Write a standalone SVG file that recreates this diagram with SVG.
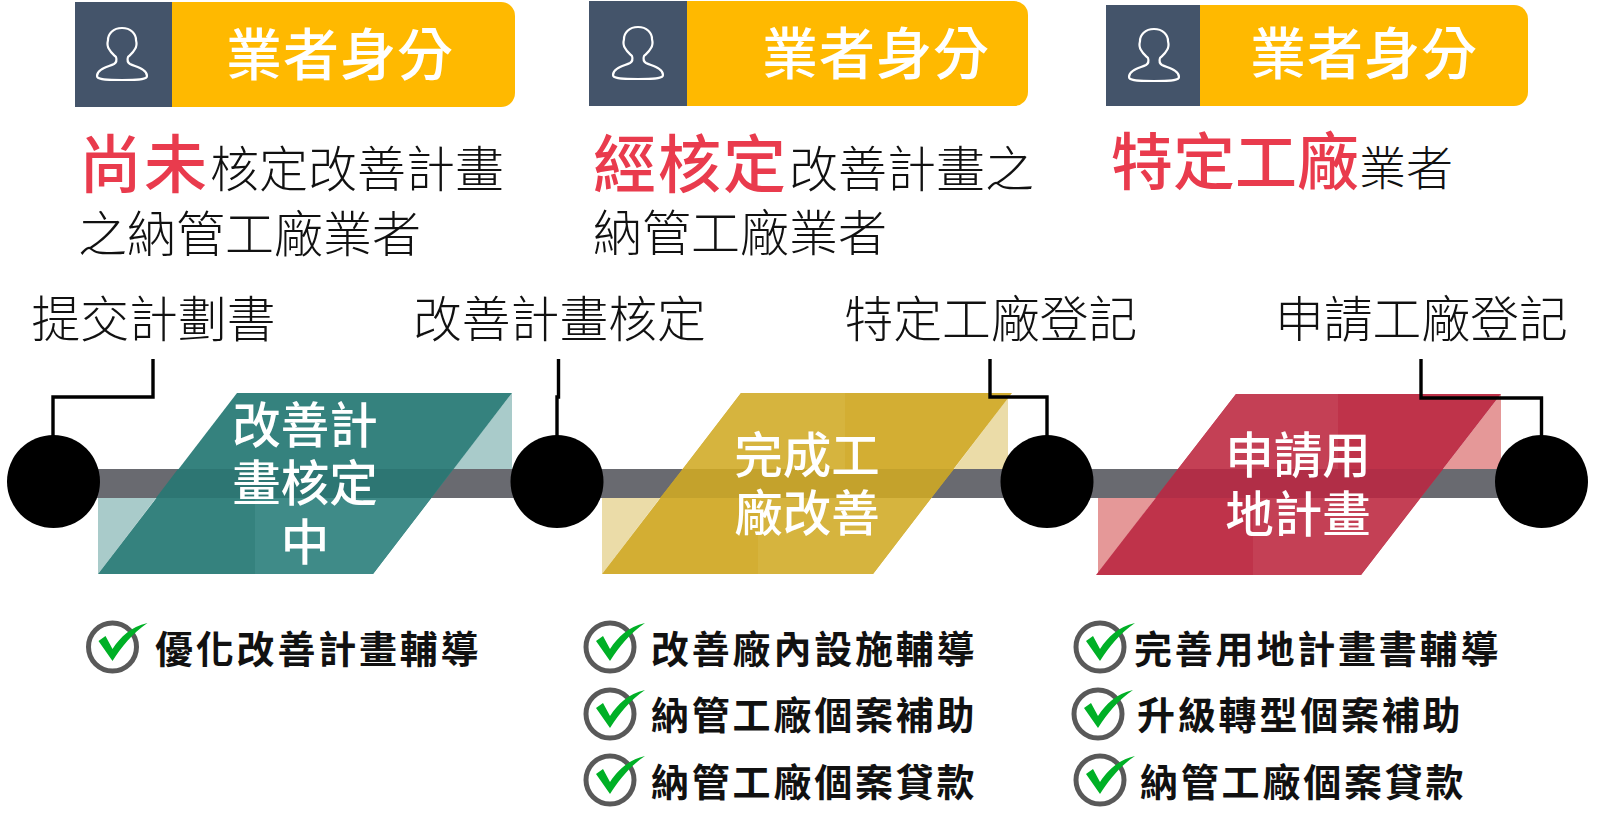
<svg xmlns="http://www.w3.org/2000/svg" xmlns:xlink="http://www.w3.org/1999/xlink" width="1600" height="834" viewBox="0 0 1600 834">
<style>
text{font-family:"Noto Sans CJK TC","Noto Sans CJK JP",sans-serif}
.hd{font-size:56px;font-weight:500;fill:#fff;letter-spacing:1px}
.hl{font-size:63px;font-weight:500;fill:#e93b4d;letter-spacing:2px}
.hl3{font-size:62px;font-weight:500;fill:#e93b4d}
.bd{font-size:49px;font-weight:300;fill:#111}
.bd3{font-size:47px;font-weight:300;fill:#111}
.lb{font-size:48.8px;font-weight:300;fill:#111}
.pn{font-size:48.5px;font-weight:500;fill:#fff;text-anchor:middle}
.it{font-size:38px;font-weight:700;fill:#111;letter-spacing:2.8px}
.slate{fill:#44546a}
.org{fill:#ffb900}
.dot{fill:#000}
.cn{fill:none;stroke:#000;stroke-width:3.4}
</style>
<defs>
<path id="user" d="M0-26C-9-26-14-20-14-14C-15-10-15-8-13-5C-11-1-8 1-6 3C-5 6-5 8-8 10C-14 13-25 15-25 22C-25 25-20 26 0 26C20 26 25 25 25 22C25 15 14 13 8 10C5 8 5 6 6 3C8 1 11-1 13-5C15-8 15-10 14-14C14-20 9-26 0-26Z" fill="none" stroke="#fff" stroke-width="2.2"/>
<g id="chk"><circle r="24" fill="#fff" stroke="#595959" stroke-width="5"/><path d="M-14-6L-7-11L0 2C8-10 18-20 35-24C20-14 9 0 0 14Z" fill="#00b026"/></g>
</defs>

<g id="header-1"><path class="org" d="M171 2H501a14 14 0 0 1 14 14V93a14 14 0 0 1-14 14H171Z"/><rect class="slate" x="75" y="2" width="97" height="105"/><use href="#user" xlink:href="#user" x="122" y="54"/><text class="hd" x="226" y="75">業者身分</text></g>
<g id="header-2"><path class="org" d="M686 1H1014a14 14 0 0 1 14 14V92a14 14 0 0 1-14 14H686Z"/><rect class="slate" x="589" y="1" width="98" height="105"/><use href="#user" xlink:href="#user" x="638" y="53"/><text class="hd" x="762" y="74">業者身分</text></g>
<g id="header-3"><path class="org" d="M1199 5H1514a14 14 0 0 1 14 14V92a14 14 0 0 1-14 14H1199Z"/><rect class="slate" x="1106" y="5" width="94" height="101"/><use href="#user" xlink:href="#user" x="1154" y="55"/><text class="hd" x="1250" y="74">業者身分</text></g>

<g id="desc-1"><text x="79" y="187"><tspan class="hl">尚未</tspan><tspan class="bd" dx="1">核定改善計畫</tspan></text><text class="bd" x="78" y="252">之納管工廠業者</text></g>
<g id="desc-2"><text x="593" y="187"><tspan class="hl">經核定</tspan><tspan class="bd" dx="1">改善計畫之</tspan></text><text class="bd" x="593" y="251">納管工廠業者</text></g>
<g id="desc-3"><text x="1111" y="185"><tspan class="hl3">特定工廠</tspan><tspan class="bd3">業者</tspan></text></g>

<g id="bands">
<polygon points="98,498 98,574 156,498" fill="#a9cbca"/><polygon points="512,393 512,469 453,469" fill="#a9cbca"/>
<polygon points="602,498 602,574 660,498" fill="#ebdca8"/><polygon points="1008,398 1008,469 954,469" fill="#ebdca8"/>
<polygon points="1098,498 1098,575 1155.5,498" fill="#e59898"/><polygon points="1501,394 1501,469 1443,469" fill="#e59898"/>
<rect x="53" y="469" width="1488" height="29" fill="#696a70"/>
</g>

<g id="step-1"><polygon points="98,574 237,393 512,393 373,574" fill="#35827e"/><polygon points="255,574 373,574 431,498 255,498" fill="#3f8b88"/><polygon points="178,469 453,469 431,498 156,498" fill="#2d7673"/><text class="pn" x="305" y="443">改善計</text><text class="pn" x="305" y="501">畫核定</text><text class="pn" x="305" y="560">中</text></g>
<g id="step-2"><polygon points="602,574 741,393 1012,393 873,574" fill="#d3ae33"/><polygon points="758,574 873,574 931,498 758,498" fill="#d6b43e"/><polygon points="741,393 845,393 845,469 683,469" fill="#d6b43e"/><polygon points="683,469 954,469 931,498 660,498" fill="#c4a22c"/><text class="pn" x="807" y="473">完成工</text><text class="pn" x="807" y="531">廠改善</text></g>
<g id="step-3"><polygon points="1096,575 1236,394 1501,394 1361,575" fill="#bf334a"/><polygon points="1253,575 1361,575 1420,498 1253,498" fill="#c44055"/><polygon points="1236,394 1338,394 1338,469 1178,469" fill="#c44055"/><polygon points="1178,469 1443,469 1420,498 1155.5,498" fill="#b12e47"/><text class="pn" x="1298" y="473">申請用</text><text class="pn" x="1298" y="532">地計畫</text></g>

<g id="connectors">
<path class="cn" d="M153 359V397H53V440"/>
<path class="cn" d="M558.5 359V397H557V440"/>
<path class="cn" d="M990 359V397H1047V440"/>
<path class="cn" d="M1421 359V398H1541.5V440"/>
</g>
<g id="milestone-1"><circle class="dot" cx="53.5" cy="481.5" r="46.5"/><text class="lb" x="31.5" y="337">提交計劃書</text></g>
<g id="milestone-2"><circle class="dot" cx="557" cy="481.5" r="46.5"/><text class="lb" x="413" y="337">改善計畫核定</text></g>
<g id="milestone-3"><circle class="dot" cx="1047" cy="481.5" r="46.5"/><text class="lb" x="844.5" y="337">特定工廠登記</text></g>
<g id="milestone-4"><circle class="dot" cx="1541.5" cy="481.5" r="46.5"/><text class="lb" x="1275" y="337">申請工廠登記</text></g>

<g id="list-1"><use href="#chk" xlink:href="#chk" x="112.5" y="647"/><text class="it" x="155" y="663">優化改善計畫輔導</text></g>
<g id="list-2">
<use href="#chk" xlink:href="#chk" x="610" y="647"/><text class="it" x="651" y="663">改善廠內設施輔導</text>
<use href="#chk" xlink:href="#chk" x="610" y="714"/><text class="it" x="651" y="729">納管工廠個案補助</text>
<use href="#chk" xlink:href="#chk" x="610" y="780"/><text class="it" x="651" y="796">納管工廠個案貸款</text>
</g>
<g id="list-3">
<use href="#chk" xlink:href="#chk" x="1100" y="647"/><text class="it" x="1134" y="663">完善用地計畫書輔導</text>
<use href="#chk" xlink:href="#chk" x="1098" y="714"/><text class="it" x="1137" y="729">升級轉型個案補助</text>
<use href="#chk" xlink:href="#chk" x="1100" y="780"/><text class="it" x="1140" y="796">納管工廠個案貸款</text>
</g>
</svg>
